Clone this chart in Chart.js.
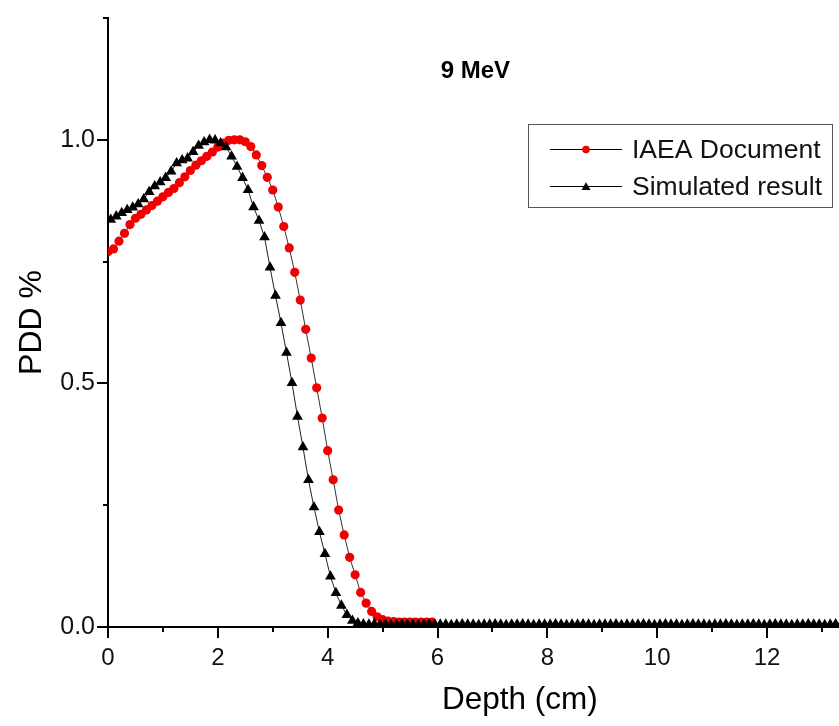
<!DOCTYPE html>
<html>
<head>
<meta charset="utf-8">
<title>9 MeV PDD</title>
<script src="https://cdn.jsdelivr.net/npm/chart.js@4/dist/chart.umd.min.js"></script>
<style>
  html, body { margin: 0; padding: 0; background: #fff; }
  #wrap { width: 839px; height: 726px; overflow: hidden; position: relative; }
  canvas { display: block; }
</style>
</head>
<body>
<div id="wrap"><canvas id="pdd" width="938" height="726"></canvas></div>
<script>
// Depth-dose data, depth in cm, dose normalised to the maximum
const iaeaDepth = [
  0.0,0.1,0.2,0.3,0.4,0.5,0.6,0.7,0.8,0.9,
  1.0,1.1,1.2,1.3,1.4,1.5,1.6,1.7,1.8,1.9,
  2.0,2.1,2.2,2.3,2.4,2.5,2.6,2.7,2.8,2.9,
  3.0,3.1,3.2,3.3,3.4,3.5,3.6,3.7,3.8,3.9,
  4.0,4.1,4.2,4.3,4.4,4.5,4.6,4.7,4.8,4.9,
  5.0,5.1,5.2,5.3,5.4,5.5,5.6,5.7,5.8,5.9
];
const iaeaDose = [
  0.770,0.776,0.792,0.808,0.826,0.839,0.847,0.856,0.865,0.874,
  0.883,0.892,0.900,0.912,0.924,0.937,0.948,0.957,0.966,0.975,
  0.985,0.993,0.999,1.000,1.000,0.996,0.986,0.969,0.947,0.923,
  0.897,0.862,0.822,0.778,0.728,0.671,0.611,0.552,0.491,0.429,
  0.362,0.302,0.240,0.189,0.143,0.107,0.071,0.049,0.032,0.021,
  0.015,0.012,0.011,0.010,0.010,0.010,0.010,0.010,0.010,0.010
];
const simDepth = [
  0.05,0.15,0.25,0.35,0.45,0.55,0.65,0.75,0.85,0.95,
  1.05,1.15,1.25,1.35,1.45,1.55,1.65,1.75,1.85,1.95,
  2.05,2.15,2.25,2.35,2.45,2.55,2.65,2.75,2.85,2.95,
  3.05,3.15,3.25,3.35,3.45,3.55,3.65,3.75,3.85,3.95,
  4.05,4.15,4.25,4.35,4.45,4.55,4.65,4.75,4.85,4.95,
  5.05,5.15,5.25,5.35,5.45,5.55,5.65,5.75,5.85,5.95,
  6.05,6.15,6.25,6.35,6.45,6.55,6.65,6.75,6.85,6.95,
  7.05,7.15,7.25,7.35,7.45,7.55,7.65,7.75,7.85,7.95,
  8.05,8.15,8.25,8.35,8.45,8.55,8.65,8.75,8.85,8.95,
  9.05,9.15,9.25,9.35,9.45,9.55,9.65,9.75,9.85,9.95,
  10.05,10.15,10.25,10.35,10.45,10.55,10.65,10.75,10.85,10.95,
  11.05,11.15,11.25,11.35,11.45,11.55,11.65,11.75,11.85,11.95,
  12.05,12.15,12.25,12.35,12.45,12.55,12.65,12.75,12.85,12.95,
  13.05,13.15,13.25,13.35,13.45,13.55,13.65,13.75,13.85,13.95,
  14.05,14.15,14.25,14.35,14.45,14.55,14.65,14.75,14.85,14.95
];
const simDose = [
  0.836,0.843,0.850,0.856,0.861,0.868,0.878,0.893,0.905,0.913,
  0.922,0.935,0.952,0.958,0.962,0.975,0.988,0.995,1.000,0.999,
  0.993,0.985,0.966,0.945,0.922,0.897,0.862,0.834,0.800,0.738,
  0.680,0.624,0.563,0.501,0.432,0.369,0.302,0.246,0.195,0.150,
  0.104,0.070,0.044,0.025,0.013,0.008,0.006,0.005,0.006,0.005,
  0.005,0.004,0.005,0.006,0.005,0.005,0.004,0.005,0.006,0.005,
  0.005,0.005,0.004,0.005,0.006,0.005,0.005,0.004,0.005,0.005,
  0.006,0.005,0.004,0.005,0.005,0.006,0.005,0.004,0.005,0.005,
  0.005,0.006,0.005,0.004,0.005,0.005,0.006,0.005,0.004,0.005,
  0.005,0.005,0.006,0.004,0.005,0.005,0.005,0.006,0.005,0.004,
  0.005,0.006,0.005,0.005,0.004,0.005,0.006,0.005,0.005,0.004,
  0.005,0.005,0.006,0.005,0.004,0.005,0.005,0.006,0.005,0.004,
  0.005,0.006,0.005,0.005,0.004,0.005,0.005,0.006,0.005,0.005,
  0.004,0.005,0.006,0.005,0.005,0.004,0.005,0.006,0.005,0.005,
  0.004,0.005,0.005,0.006,0.005,0.004,0.005,0.005,0.006,0.005
];

const seriesNames = ['IAEA Document', 'Simulated result'];
const chartTitle = '9 MeV';
const xAxisTitle = 'Depth (cm)';
const yAxisTitle = 'PDD %';
const xTickLabels = ['0', '2', '4', '6', '8', '10', '12', '14'];
const yTickLabels = ['0.0', '0.5', '1.0'];

const FONT = "'Liberation Sans', Arial, Helvetica, sans-serif";

function zip(xs, ys) {
  return xs.map((x, i) => ({ x: x, y: ys[i] }));
}

// Triangle path matching Chart.js's 'triangle' point style
function trianglePath(ctx, cx, cy, r) {
  ctx.beginPath();
  for (let k = 0; k < 3; k++) {
    const a = -Math.PI / 2 + k * 2 * Math.PI / 3;
    const px = cx + Math.cos(a) * r, py = cy + Math.sin(a) * r;
    if (k === 0) ctx.moveTo(px, py); else ctx.lineTo(px, py);
  }
  ctx.closePath();
}

// Outward tick marks, long on labelled values, short in between
const axisTicks = {
  id: 'axisTicks',
  beforeDatasetsDraw(chart) {
    const { ctx, chartArea, scales } = chart;
    ctx.save();
    ctx.strokeStyle = '#000';
    ctx.lineWidth = 2;
    ctx.beginPath();
    scales.x.ticks.forEach(t => {
      const px = Math.round(scales.x.getPixelForValue(t.value));
      const len = t.label !== '' ? 11 : 5;
      ctx.moveTo(px, chartArea.bottom);
      ctx.lineTo(px, chartArea.bottom + len);
    });
    scales.y.ticks.forEach(t => {
      const py = Math.round(scales.y.getPixelForValue(t.value));
      const len = t.label !== '' ? 11 : 5;
      ctx.moveTo(chartArea.left, py);
      ctx.lineTo(chartArea.left - len, py);
    });
    ctx.stroke();
    ctx.restore();
  }
};

// Title text placed inside the plot
const plotTitle = {
  id: 'plotTitle',
  afterDraw(chart, args, opts) {
    const { ctx, scales } = chart;
    ctx.save();
    ctx.font = 'bold 24px ' + FONT;
    ctx.fillStyle = '#000';
    ctx.textAlign = 'center';
    ctx.textBaseline = 'middle';
    ctx.fillText(opts.text, scales.x.getPixelForValue(opts.x), scales.y.getPixelForValue(opts.y));
    ctx.restore();
  }
};

// Boxed legend with line-and-marker samples
const boxLegend = {
  id: 'boxLegend',
  afterDraw(chart, args, opts) {
    const { ctx, chartArea } = chart;
    const left = chartArea.left + opts.left, top = chartArea.top + opts.top;
    ctx.save();
    ctx.strokeStyle = '#555';
    ctx.lineWidth = 1;
    ctx.strokeRect(left + 0.5, top + 0.5, opts.width, opts.height);
    chart.data.datasets.forEach((ds, i) => {
      const cy = top + 25 + i * 37;
      const x0 = left + 22, x1 = left + 94, xm = (x0 + x1) / 2;
      ctx.strokeStyle = '#000';
      ctx.lineWidth = 1;
      ctx.beginPath();
      ctx.moveTo(x0, cy + 0.5);
      ctx.lineTo(x1, cy + 0.5);
      ctx.stroke();
      ctx.fillStyle = ds.pointBackgroundColor;
      if (ds.pointStyle === 'triangle') {
        trianglePath(ctx, xm, cy + 1.5, 5.2);
        ctx.fill();
      } else {
        ctx.beginPath();
        ctx.arc(xm, cy + 0.5, 3.8, 0, Math.PI * 2);
        ctx.fill();
      }
      ctx.fillStyle = '#111';
      ctx.font = '26.5px ' + FONT;
      ctx.textAlign = 'left';
      ctx.textBaseline = 'middle';
      ctx.fillText(ds.label, x1 + 10, cy + 2);
    });
    ctx.restore();
  }
};

const onHalf = v => Math.abs(v * 2 - Math.round(v * 2)) < 1e-9;

new Chart(document.getElementById('pdd'), {
  type: 'line',
  data: {
    datasets: [
      {
        label: seriesNames[0],
        data: zip(iaeaDepth, iaeaDose),
        borderColor: '#333',
        borderWidth: 1,
        pointStyle: 'circle',
        pointRadius: 4.6,
        pointBorderWidth: 0,
        pointBackgroundColor: '#f00000',
        pointBorderColor: '#f00000',
        tension: 0,
        order: 1
      },
      {
        label: seriesNames[1],
        data: zip(simDepth, simDose),
        borderColor: '#222',
        borderWidth: 1,
        pointStyle: 'triangle',
        pointRadius: 6.2,
        pointBorderWidth: 0,
        pointBackgroundColor: '#000',
        pointBorderColor: '#000',
        tension: 0,
        order: 0
      }
    ]
  },
  options: {
    responsive: false,
    animation: false,
    devicePixelRatio: 1,
    events: [],
    layout: { padding: { top: 18, left: 0, right: 0, bottom: 0 } },
    plugins: {
      legend: { display: false },
      tooltip: { enabled: false },
      title: { display: false },
      plotTitle: { text: chartTitle, x: 6.69, y: 1.14 },
      boxLegend: { left: 420, top: 106, width: 304, height: 83 }
    },
    scales: {
      x: {
        type: 'linear',
        min: 0,
        max: 15,
        grid: { display: false, drawTicks: false },
        border: { display: true, color: '#000', width: 2 },
        ticks: {
          stepSize: 1,
          autoSkip: false,
          maxRotation: 0,
          padding: 17,
          color: '#111',
          font: { family: FONT, size: 24 },
          callback: v => {
            const s = String(v);
            return xTickLabels.includes(s) ? s : '';
          }
        },
        title: {
          display: true,
          text: xAxisTitle,
          color: '#000',
          font: { family: FONT, size: 31.5 },
          padding: { top: 0, bottom: 7 }
        },
        afterFit: s => { s.height = 99; s.paddingLeft = 0; s.paddingRight = 0; }
      },
      y: {
        type: 'linear',
        min: 0,
        max: 1.25,
        grid: { display: false, drawTicks: false },
        border: { display: true, color: '#000', width: 2 },
        ticks: {
          stepSize: 0.25,
          autoSkip: false,
          padding: 13,
          color: '#111',
          font: { family: FONT, size: 25 },
          callback: v => {
            if (!onHalf(v)) return '';
            const s = v.toFixed(1);
            return yTickLabels.includes(s) ? s : '';
          }
        },
        title: {
          display: true,
          text: yAxisTitle,
          color: '#000',
          font: { family: FONT, size: 32 },
          padding: { top: 13, bottom: 0 }
        },
        afterFit: s => { s.width = 108; s.paddingTop = 0; s.paddingBottom = 0; }
      }
    }
  },
  plugins: [axisTicks, plotTitle, boxLegend]
});
</script>
</body>
</html>
